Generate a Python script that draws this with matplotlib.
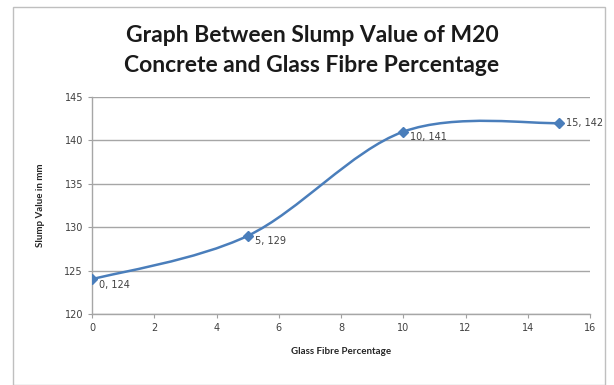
import matplotlib
matplotlib.use("Agg")
import matplotlib.pyplot as plt
import numpy as np
from matplotlib.path import Path
from matplotlib.patches import PathPatch, Rectangle

fibre_pct = [0, 5, 10, 15]
slump_mm = [124, 129, 141, 142]
x_ticks = [0, 2, 4, 6, 8, 10, 12, 14, 16]
y_ticks = [120, 125, 130, 135, 140, 145]

line_color = "#4A7EBB"
font = "Lato"

fig = plt.figure(figsize=(6.14, 3.85), dpi=100)
fig.patches.append(Rectangle((13/614, 0), (605-13)/614, 1-7/385, transform=fig.transFigure,
                             fill=False, edgecolor="#bfbfbf", linewidth=1.0))
ax = fig.add_axes([92/614, 1-314/385, (590-92)/614, (314-97)/385])
ax.set_xlim(0, 16)
ax.set_ylim(120, 145)

# Excel-style smoothed curve (Bezier with 1/6 tension)
P = np.array(list(zip(fibre_pct, slump_mm)), dtype=float)
n = len(P)
verts = [tuple(P[0])]
codes = [Path.MOVETO]
for i in range(n - 1):
    p0 = P[i - 1] if i > 0 else P[i]
    p1 = P[i]
    p2 = P[i + 1]
    p3 = P[i + 2] if i + 2 < n else P[i + 1]
    c1 = p1 + (p2 - p0) / 6
    c2 = p2 - (p3 - p1) / 6
    verts += [tuple(c1), tuple(c2), tuple(p2)]
    codes += [Path.CURVE4] * 3
ax.add_patch(PathPatch(Path(verts, codes), fill=False, edgecolor=line_color, linewidth=1.8, zorder=3))
ax.plot(fibre_pct, slump_mm, linestyle="none", marker="D", markersize=5, color=line_color, zorder=4)

for x, y in zip(fibre_pct, slump_mm):
    ax.annotate(f"{x}, {y}", (x, y), xytext=(5, -4 if x != 15 else 0), textcoords="offset points",
                fontsize=7, color="#404040", va="center", ha="left", family="DejaVu Sans")

ax.set_xticks(x_ticks)
ax.set_yticks(y_ticks)
ax.tick_params(axis="both", labelsize=7, colors="#404040", length=3, color="#a0a0a0", width=0.8)
for lab in ax.get_xticklabels() + ax.get_yticklabels():
    lab.set_family("DejaVu Sans")
ax.grid(axis="y", color="#a6a6a6", linewidth=1.0)
ax.set_axisbelow(True)
for s in ["top", "right"]:
    ax.spines[s].set_visible(False)
for s in ["left", "bottom"]:
    ax.spines[s].set_color("#a6a6a6")
    ax.spines[s].set_linewidth(1.0)

ax.set_xlabel("Glass Fibre Percentage", fontsize=7, fontweight="bold", family=font, color="#262626", labelpad=10)
ax.set_ylabel("Slump Value in mm", fontsize=7, fontweight="bold", family=font, color="#262626", labelpad=14)

fig.text(312/614, 1-35/385, "Graph Between Slump Value of M20", ha="center", va="center",
         fontsize=16.5, fontweight="bold", family=font, color="#1a1a1a")
fig.text(312/614, 1-65/385, "Concrete and Glass Fibre Percentage", ha="center", va="center",
         fontsize=16.5, fontweight="bold", family=font, color="#1a1a1a")

fig.savefig("out.png", dpi=100)
